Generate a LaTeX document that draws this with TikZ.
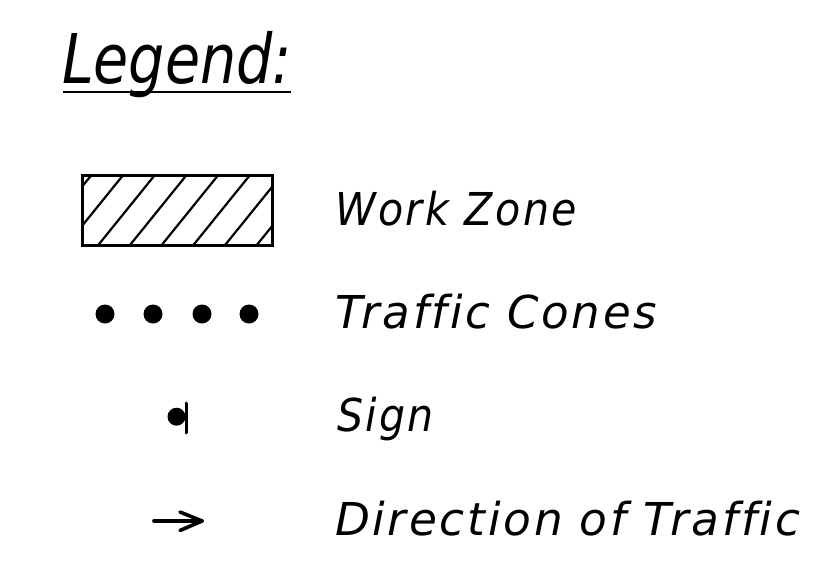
\documentclass[tikz,border=0pt]{standalone}
\usepackage{fontspec}
\usepackage{graphicx}
\newfontfamily\cadfont[Ligatures=NoCommon,LetterSpace=6]{DejaVu Sans}
\newfontfamily\cadtitle[Ligatures=NoCommon]{DejaVu Sans}
\newcommand{\fitx}[2]{\resizebox{#1pt}{\height}{#2}}
\begin{document}
\begin{tikzpicture}[x=1pt,y=-1pt,
  lbl/.style={anchor=base west,inner sep=0pt,outer sep=0pt,font=\cadfont\itshape\fontsize{45.3}{50}\selectfont},
  ttl/.style={anchor=base west,inner sep=0pt,outer sep=0pt,font=\cadtitle\itshape\fontsize{68.6}{72}\selectfont},
  hatch/.style={line width=2.2pt},
  frame/.style={line width=3.6pt},
  cone/.style={circle,fill=black,inner sep=0pt,minimum size=19pt},
  thick3/.style={line width=3.6pt,line cap=round,line join=round}]
\useasboundingbox (0,0) rectangle (828,568);
% title
\node[ttl] (title) at (62,83) {\fitx{230}{Legend:}};
\coordinate (ul1) at (63,92);
\coordinate (ul2) at (291,92);
\draw[line width=2.8pt] (ul1) -- (ul2);
% work zone
\coordinate (wzA) at (82.5,175.5);
\coordinate (wzB) at (272.5,245.5);
\begin{scope}
\clip (wzA) rectangle (wzB);
\foreach \k in {-2,...,6}{
  \draw[hatch] ({96.7+31.7*\k},247) -- ({96.7+31.7*\k+59},174);
}
\end{scope}
\draw[frame] (wzA) rectangle (wzB);
\node[lbl] (wz) at (335,225) {\fitx{242}{Work Zone}};
% cones
\foreach \x/\n in {105/c1,153/c2,202/c3,249/c4}{
  \node[cone] (\n) at (\x,314) {};
}
\node[lbl] (tc) at (335,328) {\fitx{322}{Traffic Cones}};
% sign
\node[cone,minimum size=18pt] (sdisc) at (176.5,416.7) {};
\coordinate (sb1) at (186.3,403.5);
\coordinate (sb2) at (186.3,432.5);
\draw[thick3] (sb1) -- (sb2);
\node[lbl] (sg) at (337,431) {\fitx{97}{Sign}};
% arrow
\coordinate (a1) at (154,521);
\coordinate (a2) at (202,521);
\coordinate (b1) at (180,512);
\coordinate (b2) at (180,530.5);
\draw[thick3] (a1) -- (a2);
\draw[thick3] (b1) -- (a2) -- (b2);
\node[lbl] (dt) at (335,535) {\fitx{465}{Direction of Traffic}};
\end{tikzpicture}
\end{document}
